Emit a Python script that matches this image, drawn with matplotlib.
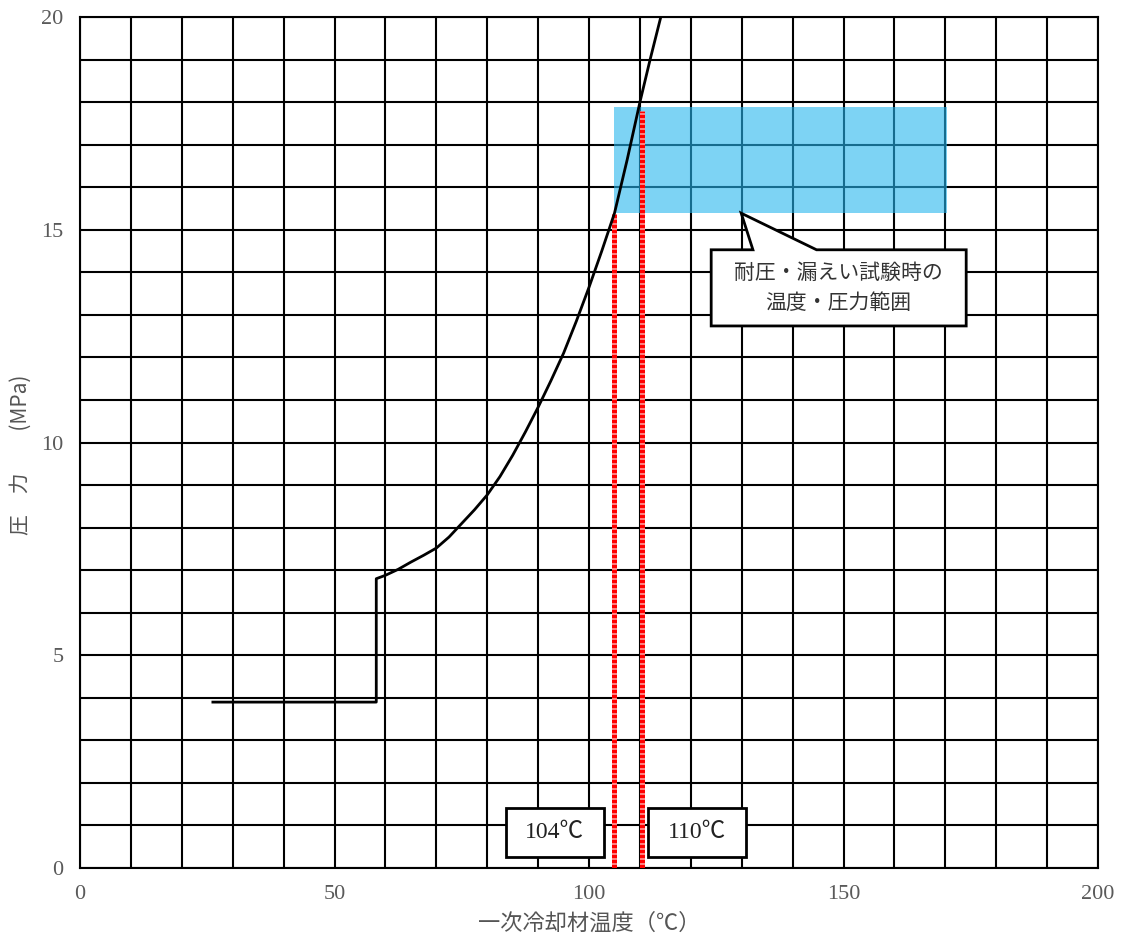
import numpy as np
import matplotlib.pyplot as plt
from matplotlib.patches import Rectangle, Polygon

# Data
# flat part before the step (temperature degC, pressure MPa)
flat_temp = [26.1, 58.2]
flat_pres = [3.9, 3.9]

# curve after the step
curve_temp = [58.2, 58.2, 60.0, 62.5, 65.0, 67.5, 70.0, 72.5, 75.0, 77.5, 80.0, 82.5,
              85.0, 87.5, 90.0, 92.5, 95.0, 97.5, 100.0, 102.5, 105.0, 107.5, 110.0,
              112.0, 114.1]
curve_pres = [3.9, 6.8, 6.88, 7.02, 7.19, 7.35, 7.52, 7.78, 8.1, 8.42, 8.77, 9.2,
              9.7, 10.25, 10.83, 11.45, 12.1, 12.85, 13.65, 14.5, 15.39, 16.65, 18.0,
              19.0, 20.0]

# test range (blue band)
range_temp = [104.9, 170.3]
range_pres = [15.4, 17.88]

# marked temperatures (red lines) and their labels
mark_temp = [104.9, 110.4]
mark_top = [15.4, 17.8]
mark_labels = ["104℃", "110℃"]

CJK = ["Noto Sans CJK JP", "DejaVu Sans"]
SERIF = ["Liberation Serif", "Noto Sans CJK JP"]

fig = plt.figure(figsize=(11.21, 9.36), dpi=100)
ax = fig.add_axes([0.0714, 0.0726, 0.9081, 0.9092])

ax.set_xlim(0, 200)
ax.set_ylim(0, 20)
ax.set_xticks(np.arange(0, 201, 50))
ax.set_xticks(np.arange(0, 201, 10), minor=True)
ax.set_yticks(np.arange(0, 21, 5))
ax.set_yticks(np.arange(0, 21, 1), minor=True)
ax.grid(True, which="both", color="black", lw=1.5, zorder=1)
ax.set_axisbelow(True)
for s in ax.spines.values():
    s.set_linewidth(1.5)
ax.tick_params(which="both", length=0)
ax.tick_params(axis="x", pad=12, labelsize=16, labelcolor="#5a5a5a")
ax.tick_params(axis="y", pad=12, labelsize=16, labelcolor="#5a5a5a")
for lab in ax.get_xticklabels() + ax.get_yticklabels():
    lab.set_family(SERIF)

# blue band (semi transparent so grid shows through)
ax.add_patch(Rectangle((range_temp[0], range_pres[0]), range_temp[1] - range_temp[0],
                       range_pres[1] - range_pres[0], facecolor=(38/255, 182/255, 238/255),
                       alpha=0.6, edgecolor="none", zorder=2))

# red dashed lines
for t, top in zip(mark_temp, mark_top):
    ax.plot([t, t], [0, top], color="white", lw=3.6, zorder=3, solid_capstyle="butt")
    ax.plot([t, t], [0, top], color="red", lw=3.6, dashes=(0.8, 0.2), zorder=4,
            dash_capstyle="butt")

# pressure curve
ax.plot(flat_temp + curve_temp, flat_pres + curve_pres, color="black", lw=2.0,
        zorder=5, solid_joinstyle="round")

# temperature label boxes
box_x = [83.7, 111.6]
for bx, txt in zip(box_x, mark_labels):
    ax.add_patch(Rectangle((bx, 0.26), 19.2, 1.15, facecolor="white",
                           edgecolor="black", lw=2.0, zorder=6))
    ax.text(bx + 9.6, 0.83, txt, ha="center", va="center", fontsize=17,
            family=SERIF, color="#222222", zorder=7)

# callout
callout = [(124.0, 14.53), (132.2, 14.53), (129.9, 15.39), (144.7, 14.53),
           (174.1, 14.53), (174.1, 12.74), (124.0, 12.74)]
ax.add_patch(Polygon(callout, closed=True, facecolor="white", edgecolor="black",
                     lw=2.0, zorder=6, joinstyle="miter"))
ax.text(149.05, 13.63, "耐圧・漏えい試験時の\n温度・圧力範囲", ha="center", va="center",
        fontsize=15, family=CJK, color="#333333", linespacing=1.45, zorder=7)

ax.set_xlabel("一次冷却材温度（℃）", fontsize=16, family=CJK, color="#555555", labelpad=6)
ax.set_ylabel("圧　力　　(MPa)", fontsize=15, family=CJK, color="#555555")
ax.yaxis.set_label_coords(-0.047, 0.485)

fig.savefig("out.png", dpi=100)
